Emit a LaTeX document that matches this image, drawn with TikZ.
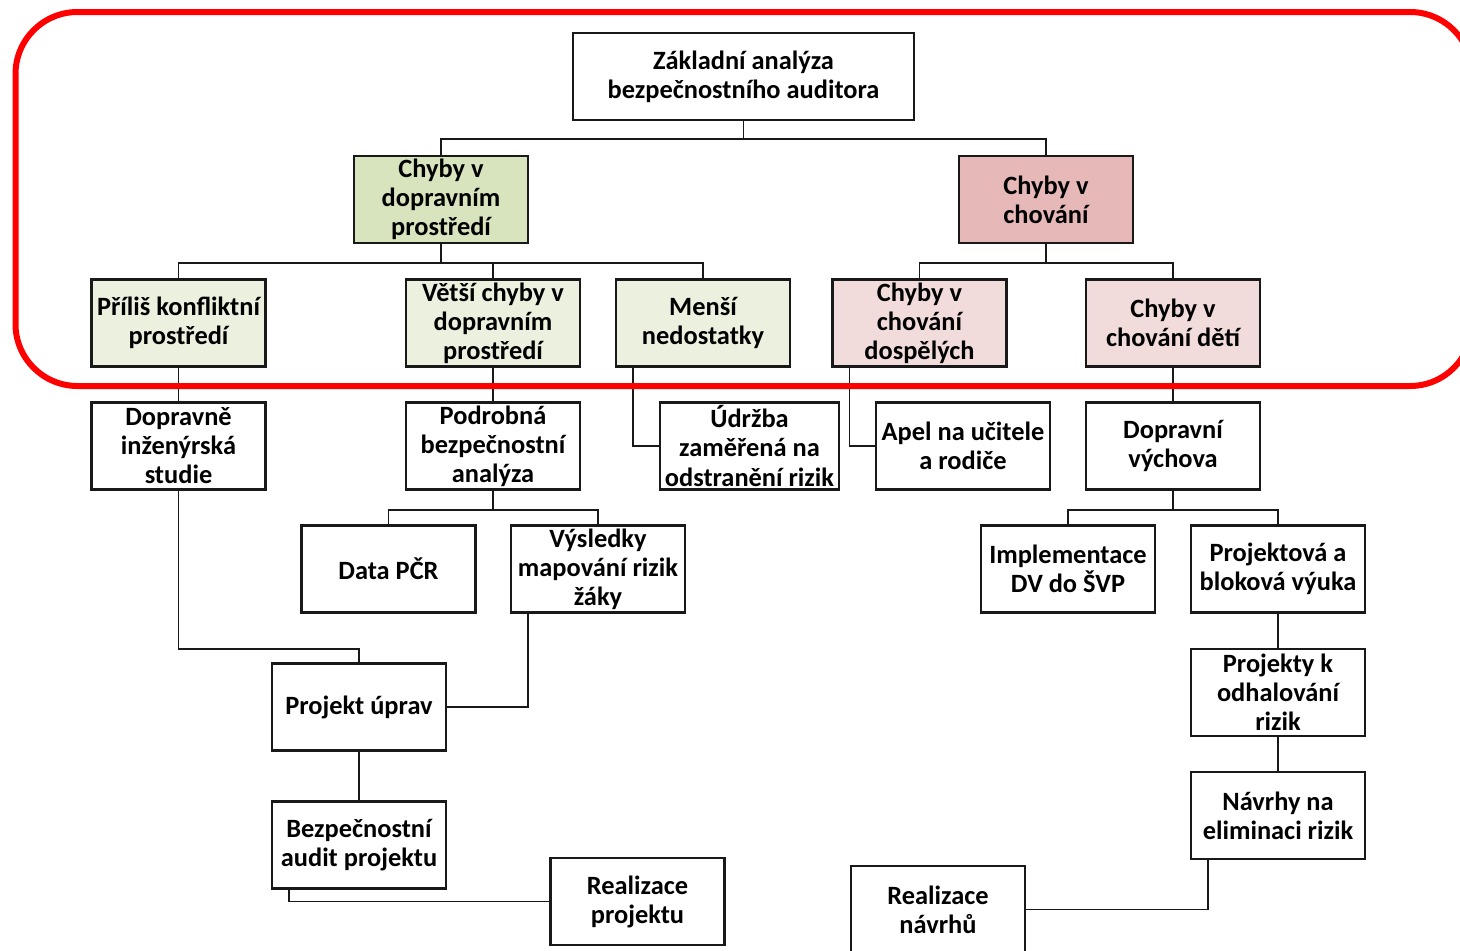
\documentclass[tikz,border=0pt]{standalone}
\usepackage{fontspec}
\setmainfont{Carlito}
\usetikzlibrary{calc}
\definecolor{gdark}{HTML}{D7E4BD}
\definecolor{glight}{HTML}{EBF1DE}
\definecolor{pdark}{HTML}{E6B9B8}
\definecolor{plight}{HTML}{F2DCDB}
\definecolor{frame}{HTML}{FF0000}
\begin{document}
\begin{tikzpicture}[x=0.75pt,y=-0.75pt,
  box/.style={draw=black!90, line width=1.6pt, fill=white, align=center, inner sep=0pt,
    minimum width=130.5pt, minimum height=65.25pt,
    font=\fontsize{19.8}{21.8}\selectfont\bfseries},
  conn/.style={draw=black!90, line width=1.4pt},
  frameline/.style={draw=frame, line width=4.5pt, rounded corners=46.5pt}]
\useasboundingbox (0,0) rectangle (1460,950);
\clip (0,0) rectangle (1460,950);
% level 0
\node[box, minimum width=255.75pt] (top) at (743.5,76.5) {Základní analýza\\bezpečnostního auditora};
% level 1
\node[box, fill=gdark] (cdp) at (441,199.5) {Chyby v\\dopravním\\prostředí};
\node[box, fill=pdark] (cch) at (1046,199.5) {Chyby v\\chování};
% level 2
\node[box, fill=glight] (pkp) at (178.5,323) {Příliš konfliktní\\prostředí};
\node[box, fill=glight] (vch) at (493,323) {Větší chyby v\\dopravním\\prostředí};
\node[box, fill=glight] (men) at (703,323) {Menší\\nedostatky};
\node[box, fill=plight] (dos) at (919.5,323) {Chyby v\\chování\\dospělých};
\node[box, fill=plight] (det) at (1173,323) {Chyby v\\chování dětí};
% level 3
\node[box] (dis) at (178.5,446) {Dopravně\\inženýrská\\studie};
\node[box] (pba) at (493,446) {Podrobná\\bezpečnostní\\analýza};
\node[box, minimum width=134.25pt] (udr) at (749.5,446) {Údržba\\zaměřená na\\odstranění rizik};
\node[box] (apel) at (963,446) {Apel na učitele\\a rodiče};
\node[box] (dv) at (1173,446) {Dopravní\\výchova};
% level 4
\node[box] (pcr) at (388.5,569) {Data PČR};
\node[box] (vys) at (598,569) {Výsledky\\mapování rizik\\žáky};
\node[box] (imp) at (1068,569) {Implementace\\DV do ŠVP};
\node[box] (pbv) at (1278,569) {Projektová a\\bloková výuka};
% lower
\node[box] (pu) at (359,707) {Projekt úprav};
\node[box] (pko) at (1278,692.5) {Projekty k\\odhalování\\rizik};
\node[box] (ba) at (359,845) {Bezpečnostní\\audit projektu};
\node[box] (nav) at (1278,815.5) {Návrhy na\\eliminaci rizik};
\node[box] (rp) at (637.5,901.5) {Realizace\\projektu};
\node[box] (rn) at (938,909.5) {Realizace\\návrhů};
% connectors
\draw[conn] (top.south) -- ++(0,18) -| (cdp.north);
\draw[conn] (top.south) -- ++(0,18) -| (cch.north);
\draw[conn] (cdp.south) -- ++(0,19) -| (pkp.north);
\draw[conn] (cdp.south) -- ++(0,19) -| (vch.north);
\draw[conn] (cdp.south) -- ++(0,19) -| (men.north);
\draw[conn] (cch.south) -- ++(0,19) -| (dos.north);
\draw[conn] (cch.south) -- ++(0,19) -| (det.north);
\draw[conn] (pkp.south) -- (dis.north);
\draw[conn] (vch.south) -- (pba.north);
\draw[conn] ($(men.south west)+(18,0)$) |- (udr.west);
\draw[conn] ($(dos.south west)+(18,0)$) |- (apel.west);
\draw[conn] (det.south) -- (dv.north);
\draw[conn] (pba.south) -- ++(0,19) -| (pcr.north);
\draw[conn] (pba.south) -- ++(0,19) -| (vys.north);
\draw[conn] (dv.south) -- ++(0,19) -| (imp.north);
\draw[conn] (dv.south) -- ++(0,19) -| (pbv.north);
\draw[conn] (dis.south) -- ++(0,158) -| (pu.north);
\draw[conn] ($(vys.south west)+(18,0)$) |- (pu.east);
\draw[conn] (pu.south) -- (ba.north);
\draw[conn] ($(ba.south west)+(18,0)$) |- (rp.west);
\draw[conn] (pbv.south) -- (pko.north);
\draw[conn] (pko.south) -- (nav.north);
\draw[conn] ($(nav.south west)+(18,0)$) |- (rn.east);
% red frame
\draw[frameline] (15.5,12) rectangle (1472,386);
\end{tikzpicture}
\end{document}
